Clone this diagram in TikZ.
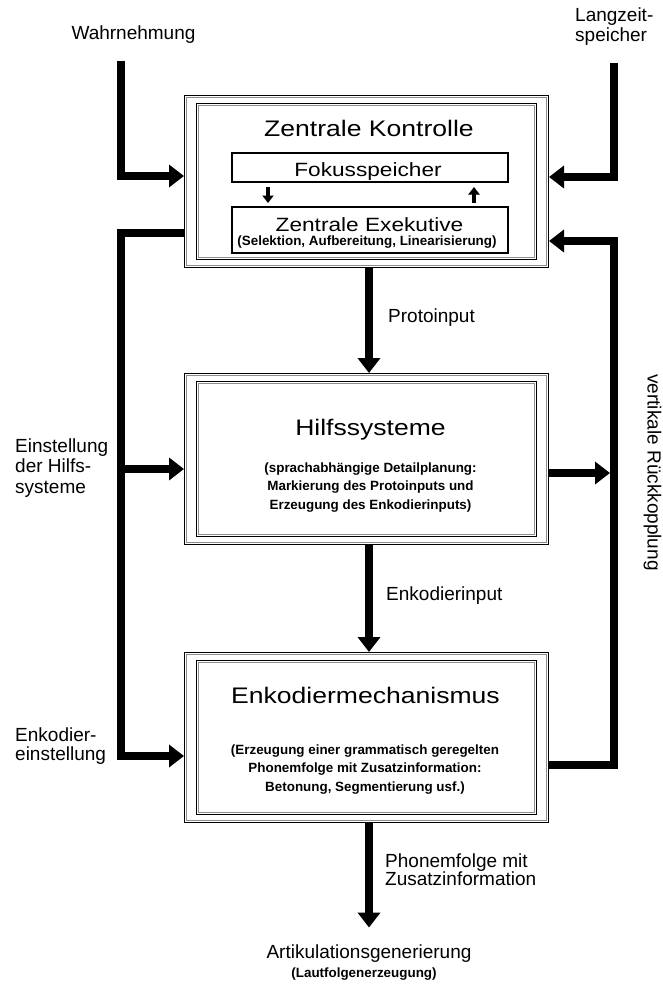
\documentclass[tikz,border=0pt]{standalone}
\usepackage{fontspec}
\setmainfont{Liberation Sans}
\newfontfamily\ttlfont[FakeStretch=1.18]{Liberation Sans}
\usetikzlibrary{arrows.meta}
\tikzset{
  bigarrow/.style={line width=8pt, line join=miter, -{Triangle[length=15pt,width=22pt]}},
  smallarrow/.style={line width=3.5pt, -{Triangle[length=7.5pt,width=11pt]}},
  framebox/.style={inner sep=0pt, outer sep=0pt, minimum width=365pt},
  innerbox/.style={draw, line width=1.3pt, inner sep=0pt, outer sep=0pt, minimum width=276pt},
  titletext/.style={font=\ttlfont\fontsize{22.5}{26}\selectfont, anchor=base, inner sep=0pt},
  midtext/.style={font=\ttlfont\fontsize{19.2}{22}\selectfont, anchor=base, inner sep=0pt},
  smalltext/.style={font=\bfseries\fontsize{13.4}{18.5}\selectfont, anchor=base, inner sep=0pt},
  labtext/.style={font=\fontsize{19}{22}\selectfont, anchor=base west, inner sep=0pt}
}
\newcommand\myDoubleFrame[1]{%
  \draw[line width=1.4pt] ([shift={(0.7pt,-0.7pt)}]#1.north west) rectangle ([shift={(-0.7pt,0.7pt)}]#1.south east);
  \draw[line width=0.9pt, black!45] ([shift={(2.8pt,-2.8pt)}]#1.north west) rectangle ([shift={(-2.8pt,2.8pt)}]#1.south east);
  \draw[line width=1.4pt] ([shift={(12.7pt,-8.7pt)}]#1.north west) rectangle ([shift={(-12.7pt,8.7pt)}]#1.south east);
  \draw[line width=0.9pt, black!45] ([shift={(14.8pt,-10.8pt)}]#1.north west) rectangle ([shift={(-14.8pt,10.8pt)}]#1.south east);
}
\begin{document}
\begin{tikzpicture}[x=1pt,y=-1pt]
\useasboundingbox[fill=white] (0,0) rectangle (663,985);

% main boxes
\node[framebox, minimum height=173pt] (zk) at (366.5,181.5) {};
\node[framebox, minimum height=172pt] (hs) at (366.5,459) {};
\node[framebox, minimum height=171pt] (em) at (366.5,737.5) {};
\myDoubleFrame{zk}\myDoubleFrame{hs}\myDoubleFrame{em}

% inner boxes of Zentrale Kontrolle
\node[innerbox, minimum height=29pt] (fs) at (370,167.5) {};
\node[innerbox, minimum height=46pt] (ex) at (370,230) {};

% texts inside boxes
\node[titletext] (t1) at (369,136.5) {Zentrale Kontrolle};
\node[midtext] (t2) at (368,176) {Fokusspeicher};
\node[midtext] (t3) at (369.5,231) {Zentrale Exekutive};
\node[smalltext] (t4) at (367,245.5) {(Selektion, Aufbereitung, Linearisierung)};

\node[titletext] (t5) at (370.5,435) {Hilfssysteme};
\node[smalltext] (t6) at (370.5,472) {(sprachabhängige Detailplanung:};
\node[smalltext] (t7) at (370.5,490.5) {Markierung des Protoinputs und};
\node[smalltext] (t8) at (370.5,509) {Erzeugung des Enkodierinputs)};

\node[titletext] (t9) at (365.5,703) {Enkodiermechanismus};
\node[smalltext] (t10) at (365,754) {(Erzeugung einer grammatisch geregelten};
\node[smalltext] (t11) at (365,772.5) {Phonemfolge mit Zusatzinformation:};
\node[smalltext] (t12) at (365,791) {Betonung, Segmentierung usf.)};

% outside labels
\node[labtext, anchor=base] (wa) at (133.5,39) {Wahrnehmung};
\node[labtext] (lz1) at (575,21.5) {Langzeit-};
\node[labtext] (lz2) at (575,41.5) {speicher};
\node[labtext] (pi) at (388,322.5) {Protoinput};
\node[labtext] (eh1) at (15,452) {Einstellung};
\node[labtext] (eh2) at (15,472.5) {der Hilfs-};
\node[labtext] (eh3) at (15,493) {systeme};
\node[labtext] (ei) at (386,600) {Enkodierinput};
\node[labtext] (ee1) at (15,741) {Enkodier-};
\node[labtext] (ee2) at (15,760) {einstellung};
\node[labtext] (pm1) at (385,867) {Phonemfolge mit};
\node[labtext] (pm2) at (385,885.5) {Zusatzinformation};
\node[labtext, anchor=base] (art) at (369,958.5) {Artikulationsgenerierung};
\node[smalltext] (lf) at (364,977) {(Lautfolgenerzeugung)};
\node[labtext, anchor=base, rotate=-90] (vr) at (647.5,472.5) {vertikale Rückkopplung};

% coordinates for connector ends
\coordinate (w0) at (121,61);
\coordinate (l0) at (614,63);
\coordinate (lc) at (121,756);
\coordinate (rx) at (614,765);
\coordinate (rxl) at (610,0);
\coordinate (zkin1) at ([yshift=5.5pt]zk.west);
\coordinate (zkin2) at ([yshift=4.5pt]zk.east);
\coordinate (zkout) at ([yshift=-51.5pt]zk.west);
\coordinate (zkin3) at ([yshift=-59.5pt]zk.east);
\coordinate (hsin) at ([yshift=-10pt]hs.west);
\coordinate (hsout) at ([yshift=-14pt]hs.east);
\coordinate (emin) at ([yshift=-18.5pt]em.west);
\coordinate (emout) at ([yshift=-27.5pt]em.east);

% connectors
\draw[bigarrow] (w0) |- (zkin1);
\draw[bigarrow] (l0) |- (zkin2);
\draw[bigarrow] (zkout) -| (lc) -- (emin);
\draw[bigarrow] (lc |- hsin) -- (hsin);
\draw[bigarrow] (emout) -| (rx |- zkin3) -- (zkin3);
\draw[bigarrow] (hsout) -- (hsout -| rxl);

\draw[bigarrow] ([xshift=2.5pt]zk.south) -- ([xshift=2.5pt]hs.north);
\draw[bigarrow] ([xshift=2.5pt]hs.south) -- ([xshift=2.5pt]em.north);
\draw[bigarrow] ([xshift=2.5pt]em.south) -- ([yshift=17pt]art.north);

\draw[smallarrow] ([xshift=-102pt,yshift=-5pt]fs.south) -- ([xshift=-102pt,yshift=4pt]ex.north);
\draw[smallarrow] ([xshift=104pt,yshift=4pt]ex.north) -- ([xshift=104pt,yshift=-5pt]fs.south);
\end{tikzpicture}
\end{document}
